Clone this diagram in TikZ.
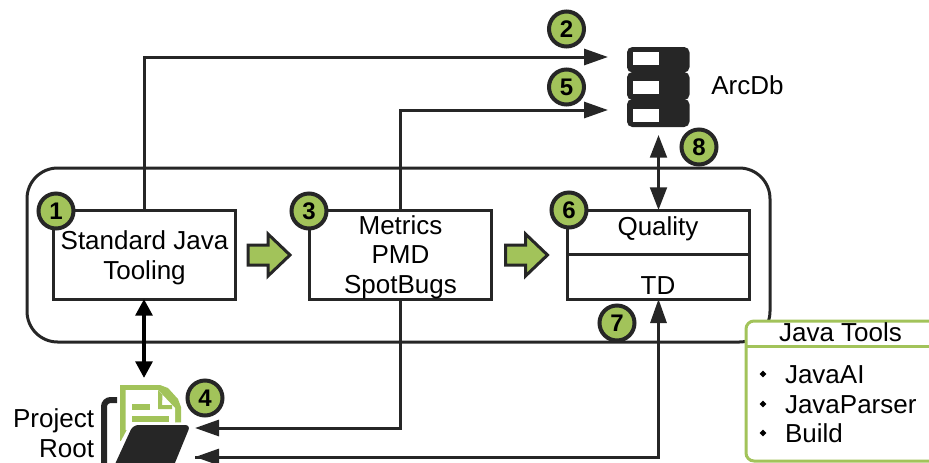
\documentclass[tikz,border=0pt]{standalone}
\usepackage{fontspec}
\setmainfont{Liberation Sans}
\usepackage{xcolor}
\usetikzlibrary{arrows.meta, shapes.geometric}
\definecolor{leaf}{HTML}{A2C35A}
\definecolor{ink}{HTML}{262626}
\tikzset{
  every picture/.style={x=0.75pt,y=-0.75pt},
  every node/.style={inner sep=0pt,outer sep=0pt,font=\fontsize{19.5}{22}\selectfont},
  toolbox/.style={draw=ink,line width=2.25pt,fill=white,minimum width=136.5pt,minimum height=66.75pt},
  boxtext/.style={anchor=base,align=center},
  badge/.style={circle,draw=ink,line width=3pt,fill=leaf,minimum size=26.25pt,font=\fontsize{18}{18}\selectfont\bfseries},
  flow/.style={draw=ink,line width=2.25pt,-{Triangle[length=18pt,width=12pt]}},
  flowboth/.style={draw=black,line width=3pt,{Triangle[length=12.5pt,width=12.5pt]}-{Triangle[length=12.5pt,width=12.5pt]}},
  dbboth/.style={draw=ink,line width=2.25pt,{Triangle[length=17pt,width=12.5pt]}-{Triangle[length=17pt,width=12.5pt]}},
  nextstep/.style={draw=ink,line width=2.25pt,fill=leaf,line join=miter},
  dbrack/.style={fill=ink,rounded corners=4pt},
  tick/.style={diamond,fill=black,minimum size=5pt}
}

\begin{document}
\begin{tikzpicture}
  \useasboundingbox (0,0) rectangle (929,462);
  \clip (0,0) rectangle (929,462);

  % outer frame
  \draw[draw=ink,line width=2.25pt,rounded corners=23pt] (27,168) rectangle (770,342);

  % main boxes
  \node[toolbox] (std) at (144,254.5) {};
  \node[toolbox] (met) at (400,254.5) {};
  \node[toolbox,minimum width=136pt] (qual) at (658.5,254.5) {};
  \draw[draw=ink,line width=2.25pt] (qual.west) -- (qual.east);
  \node[boxtext] (stdtext) at (144.5,279) {Standard Java\\Tooling};
  \node[boxtext] (mettext) at (400.5,293) {Metrics\\PMD\\SpotBugs};
  \node[boxtext] (qualtop) at (658,235) {Quality};
  \node[boxtext] (qualbot) at (658,294) {TD};

  % database
  \foreach \top/\bot in {47/72.5, 72/100, 99/127}
    \fill[dbrack] (627,\top) rectangle (689.5,\bot);
  \foreach \top in {52, 80.5, 109}
    \fill[white] (633,\top) rectangle (659,\top+13);
  \coordinate (dbtop) at (608,57);
  \coordinate (dbmid) at (608,110);
  \coordinate (dbbot) at (658.5,135);
  \node[boxtext] (arcdb) at (747.5,94) {ArcDb};

  % project root icon
  \draw[draw=ink,line width=4.5pt,rounded corners=5pt] (117,400) -- (104,400) -- (104,470);
  \fill[leaf] (120,385) -- (160,385) -- (168,388) -- (178,399) -- (181,407) -- (181,430) -- (120,441) -- cycle;
  \fill[white] (125.5,390) -- (158,390) -- (175,408) -- (175,430) -- (125.5,430) -- cycle;
  \fill[leaf] (132,404) rectangle (150,410);
  \fill[leaf] (132,416) rectangle (169,421.5);
  \fill[leaf] (162.5,395) -- (162,405) -- (172,405) -- (172,409) -- (158,409) -- (158,390) -- cycle;
  \fill[white] (121,441) -- (130,424) -- (190,422) -- (190,440) -- cycle;
  \fill[ink,rounded corners=4pt] (133,425) -- (190.5,425) -- (170,475) -- (110,475) -- cycle;
  \node[anchor=base east] (proj) at (94,427) {Project};
  \node[anchor=base east] (root) at (94,457) {Root};
  \coordinate (rootup) at (144,378);
  \coordinate (rootmet) at (195,428);
  \coordinate (roottd) at (195,457);

  % connectors
  \draw[flow] (std.north) |- (dbtop);
  \draw[flow] (met.north) |- (dbmid);
  \draw[dbboth] (dbbot) -- (qual.north);
  \draw[flowboth] (std.south) -- (rootup);
  \draw[flow] (met.south) |- (rootmet);
  \draw[flow] (roottd) -| (qual.south);
  \draw[draw=ink,line width=2.25pt,{Triangle[length=18pt,width=12pt]}-] (roottd) -- ++(30,0);

  % step arrows
  \foreach \xa in {0, 257.5}
    \draw[nextstep] (248+\xa,245) -- (268+\xa,245) -- (268+\xa,234) -- (290+\xa,255) -- (268+\xa,276) -- (268+\xa,265) -- (248+\xa,265) -- cycle;

  % tools legend
  \node[draw=leaf,line width=2.25pt,fill=white,rounded corners=6pt,anchor=north west,minimum width=200pt,minimum height=105pt] (tools) at (746,321) {};
  \draw[draw=leaf,line width=2.25pt] (746,346) -- (960,346);
  \node[boxtext] (toolshead) at (840.5,341) {Java Tools};
  \foreach \tname/\ty/\tlabel in {ai/383/JavaAI, parser/413/JavaParser, build/442/Build}{
    \node[tick] (tick\tname) at (763,\ty-9) {};
    \node[anchor=base west] (item\tname) at (785,\ty) {\tlabel};
  }

  % numbered badges
  \foreach \num/\xb/\yb in {1/56/211, 2/566.5/29, 3/309/211, 4/205/398,
                            5/566.5/87, 6/569/210, 7/617/323, 8/699/147}
    \node[badge] (b\num) at (\xb,\yb) {\num};
\end{tikzpicture}
\end{document}
